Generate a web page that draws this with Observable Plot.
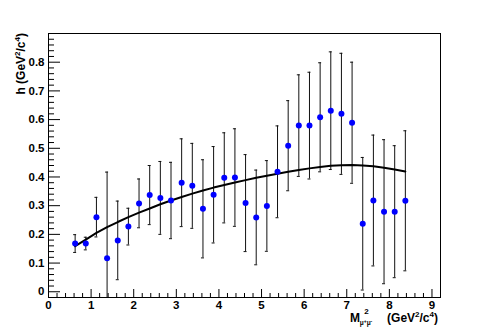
<!DOCTYPE html>
<html><head><meta charset="utf-8">
<script src="https://cdn.jsdelivr.net/npm/d3@7"></script>
<script src="https://cdn.jsdelivr.net/npm/@observablehq/plot@0.6"></script>
<style>body{margin:0;background:#fff}</style>
</head><body><div id="chart"></div>
<script>
const xs   = [0.625,0.875,1.125,1.375,1.625,1.875,2.125,2.375,2.625,2.875,3.125,3.375,3.625,3.875,4.125,4.375,4.625,4.875,5.125,5.375,5.625,5.875,6.125,6.375,6.625,6.875,7.125,7.375,7.625,7.875,8.125,8.375];
const ys   = [0.168,0.168,0.260,0.117,0.179,0.227,0.308,0.337,0.327,0.318,0.380,0.369,0.289,0.338,0.397,0.398,0.309,0.259,0.299,0.418,0.509,0.579,0.579,0.608,0.631,0.620,0.589,0.237,0.318,0.279,0.279,0.317];
const errs = [0.031,0.022,0.069,0.300,0.137,0.064,0.085,0.103,0.127,0.133,0.153,0.148,0.171,0.168,0.157,0.170,0.169,0.165,0.158,0.160,0.157,0.177,0.186,0.190,0.205,0.211,0.211,0.231,0.228,0.251,0.230,0.244];
const fitY = [0.159,0.182,0.205,0.225,0.243,0.260,0.276,0.290,0.305,0.318,0.330,0.342,0.353,0.363,0.372,0.381,0.389,0.397,0.404,0.411,0.418,0.424,0.430,0.435,0.439,0.441,0.442,0.440,0.437,0.432,0.426,0.419];
const xTicks = [0,1,2,3,4,5,6,7,8,9];
const yTicks = [0,0.1,0.2,0.3,0.4,0.5,0.6,0.7,0.8];
const yTickLabels = ["0","0.1","0.2","0.3","0.4","0.5","0.6","0.7","0.8"];

const W = 488, H = 331, mL = 48, mR = 48, mT = 33, mB = 34;
const xDom = [0, 9.2], yDom = [-0.02, 0.9];
const xMinor = d3.range(0, 9.2001, 0.2).filter(v => Math.abs(v - Math.round(v)) > 1e-6);
const yMinor = d3.range(0, 0.8801, 0.02).filter(v => Math.abs(v*10 - Math.round(v*10)) > 1e-6);
const capHalf = 1.5 * (xDom[1] - xDom[0]) / (W - mL - mR);

const pts = xs.map((x, i) => ({x, y: ys[i], lo: ys[i] - errs[i], hi: ys[i] + errs[i]}));
const fit = xs.map((x, i) => ({x, y: fitY[i]}));

const font = "'Liberation Sans', Arial, Helvetica, sans-serif";
const plot = Plot.plot({
  width: W, height: H,
  marginLeft: mL, marginRight: mR, marginTop: mT, marginBottom: mB,
  style: {fontFamily: font, fontSize: "11.5px", fontWeight: "bold", background: "#fff", color: "#000"},
  x: {domain: xDom},
  y: {domain: yDom},
  marks: [
    Plot.ruleX(pts, {x: "x", y1: "lo", y2: "hi", stroke: "#111", strokeWidth: 1, clip: true}),
    Plot.ruleY(pts, {y: "hi", x1: d => d.x - capHalf, x2: d => d.x + capHalf, stroke: "#111", clip: true}),
    Plot.ruleY(pts.filter(d => d.lo > yDom[0]), {y: "lo", x1: d => d.x - capHalf, x2: d => d.x + capHalf, stroke: "#111"}),
    Plot.line(fit, {x: "x", y: "y", stroke: "#000", strokeWidth: 2}),
    Plot.dot(pts, {x: "x", y: "y", r: 3, fill: "#0000ff", stroke: "none"}),
    Plot.axisY(yTicks, {anchor: "left", tickSize: -12, tickPadding: 16, tickFormat: (d, i) => yTickLabels[i], label: null, stroke: "#000"}),
    Plot.axisY(yMinor, {anchor: "left", tickSize: -6, text: null, label: null, stroke: "#000"}),
    Plot.axisX(xTicks, {anchor: "bottom", tickSize: -8, tickPadding: 11, tickFormat: d => String(d), label: null, stroke: "#000"}),
    Plot.axisX(xMinor, {anchor: "bottom", tickSize: -4, text: null, label: null, stroke: "#000"}),
    Plot.frame({stroke: "#000", strokeWidth: 1})
  ]
});
document.getElementById("chart").appendChild(plot);

const svg = d3.select(plot);
// y-axis title
const yt = svg.append("text")
  .attr("transform", "translate(25,33) rotate(-90)")
  .attr("text-anchor", "end")
  .attr("font-family", font).attr("font-weight", "bold").attr("font-size", 12).attr("fill", "#000");
yt.append("tspan").text("h (GeV");
yt.append("tspan").attr("font-size", 8).attr("dy", -5).text("2");
yt.append("tspan").attr("dy", 5).text("/c");
yt.append("tspan").attr("font-size", 8).attr("dy", -5).text("4");
yt.append("tspan").attr("dy", 5).text(")");

// x-axis title
const g = svg.append("g").attr("font-family", font).attr("font-weight", "bold").attr("fill", "#000");
g.append("text").attr("x", 355).attr("y", 321.5).attr("font-size", 12).text("M");
g.append("text").attr("x", 366.5).attr("y", 314).attr("font-size", 8).text("2");
const sub = g.append("text").attr("x", 366).attr("y", 325).attr("font-size", 6.5);
sub.append("tspan").text("\u03bc");
sub.append("tspan").attr("font-size", 5).attr("dy", -2.5).text("+");
sub.append("tspan").attr("dy", 2.5).text("\u03bc");
sub.append("tspan").attr("font-size", 5).attr("dy", -2.5).text("-");
const xt = g.append("text").attr("x", 438).attr("y", 321.5).attr("text-anchor", "end").attr("font-size", 12);
xt.append("tspan").text("(GeV");
xt.append("tspan").attr("font-size", 8).attr("dy", -5).text("2");
xt.append("tspan").attr("dy", 5).text("/c");
xt.append("tspan").attr("font-size", 8).attr("dy", -5).text("4");
xt.append("tspan").attr("dy", 5).text(")");
</script>
</body></html>
